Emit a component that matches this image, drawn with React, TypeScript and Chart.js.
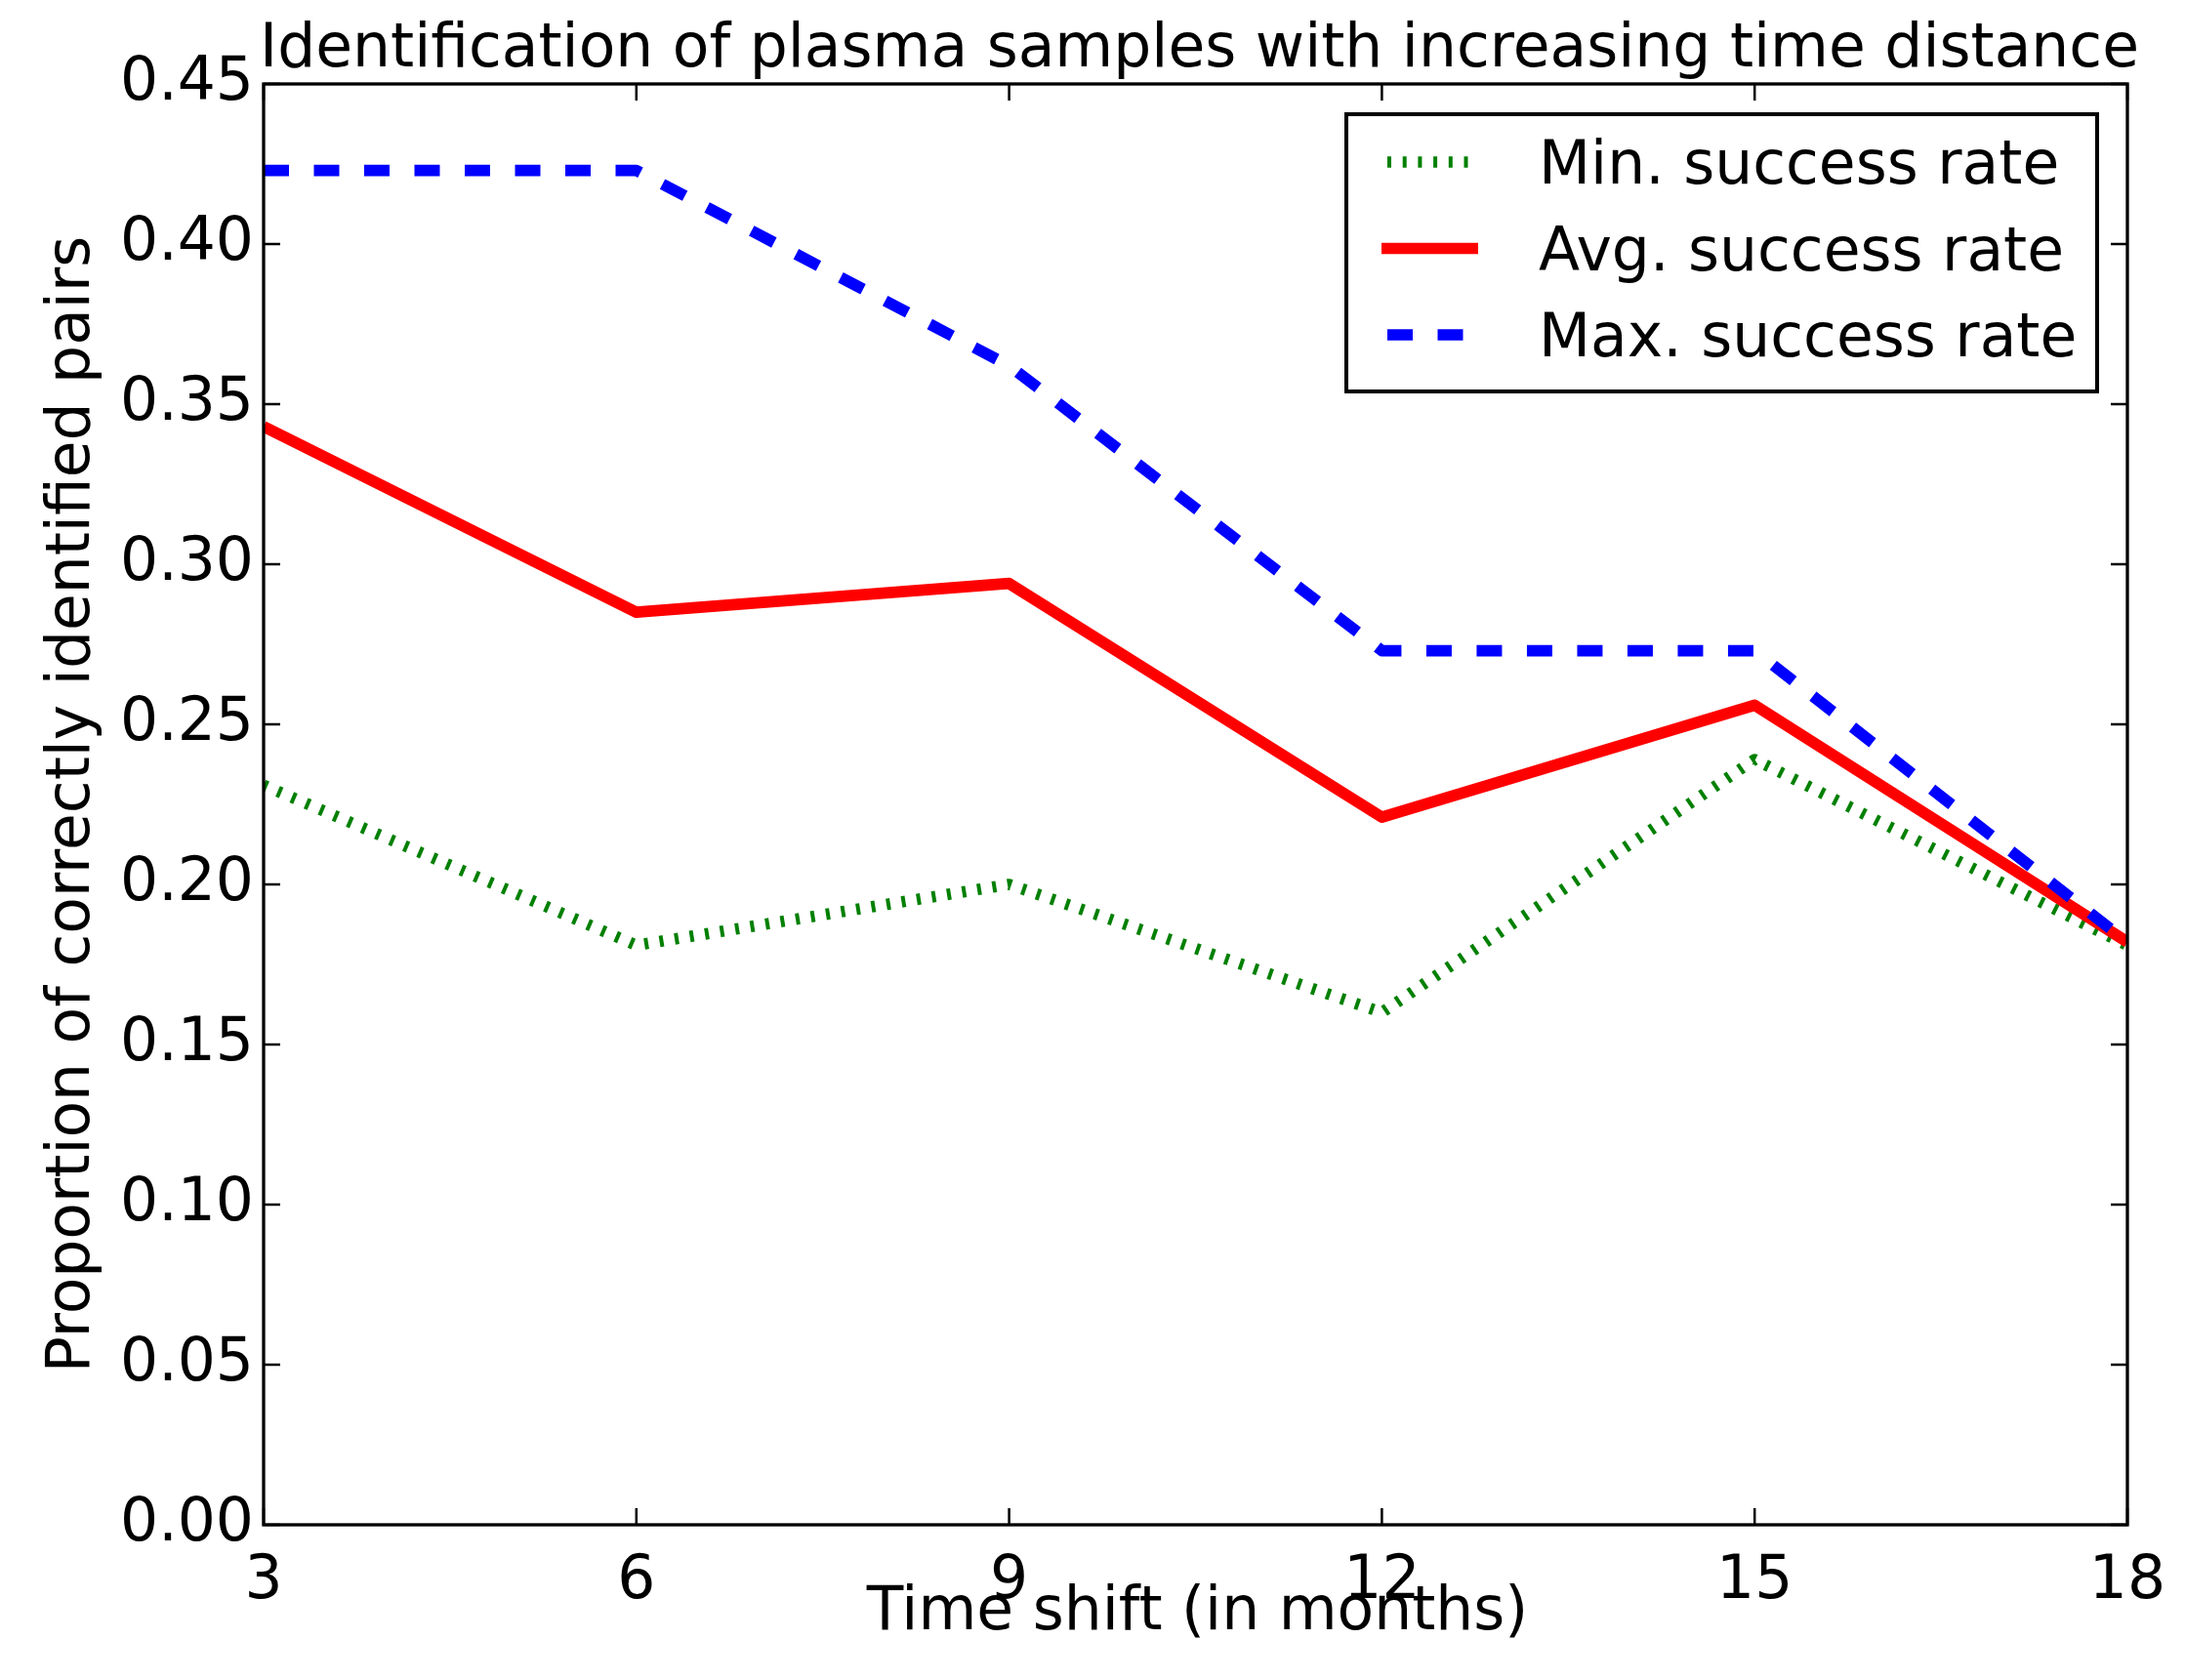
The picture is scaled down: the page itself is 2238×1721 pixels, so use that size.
import React, { useEffect, useRef } from "react";
import { Chart, registerables } from "chart.js";

Chart.register(...registerables);

const TITLE = "Identification of plasma samples with increasing time distance";
const X_TITLE = "Time shift (in months)";
const Y_TITLE = "Proportion of correctly identified pairs";

const months = [3, 6, 9, 12, 15, 18];
const minRate = [0.231, 0.181, 0.2, 0.16, 0.239, 0.181];
const avgRate = [0.343, 0.285, 0.294, 0.221, 0.256, 0.182];
const maxRate = [0.423, 0.423, 0.362, 0.273, 0.273, 0.182];
const seriesLabels = ["Min. success rate", "Avg. success rate", "Max. success rate"];

const xTicks = [3, 6, 9, 12, 15, 18];
const yTicks = [0, 0.05, 0.1, 0.15, 0.2, 0.25, 0.3, 0.35, 0.4, 0.45];

const FONT_FAMILY = "'DejaVu Sans', 'Liberation Sans', sans-serif";
const FONT_SIZE = 61.5;

const decorPlugin = {
  id: "decor",
  afterDatasetsDraw(chart: any) {
    const { ctx, chartArea: a, scales } = chart;
    ctx.save();
    // inward tick marks on all four sides
    ctx.strokeStyle = "#000";
    ctx.lineWidth = 2.5;
    ctx.setLineDash([]);
    const tl = 17;
    for (const v of xTicks) {
      const px = scales.x.getPixelForValue(v);
      ctx.beginPath();
      ctx.moveTo(px, a.bottom);
      ctx.lineTo(px, a.bottom - tl);
      ctx.moveTo(px, a.top);
      ctx.lineTo(px, a.top + tl);
      ctx.stroke();
    }
    for (const v of yTicks) {
      const py = scales.y.getPixelForValue(v);
      ctx.beginPath();
      ctx.moveTo(a.left, py);
      ctx.lineTo(a.left + tl, py);
      ctx.moveTo(a.right, py);
      ctx.lineTo(a.right - tl, py);
      ctx.stroke();
    }
    // frame
    ctx.lineWidth = 3.3;
    ctx.strokeRect(a.left, a.top, a.right - a.left, a.bottom - a.top);

    // titles
    ctx.fillStyle = "#000";
    ctx.font = `${FONT_SIZE}px ${FONT_FAMILY}`;
    ctx.textAlign = "center";
    ctx.textBaseline = "alphabetic";
    const cx = (a.left + a.right) / 2;
    ctx.fillText(TITLE, cx + 4, 68);
    ctx.fillText(X_TITLE, cx + 2, 1669);
    ctx.save();
    ctx.translate(91, (a.top + a.bottom) / 2);
    ctx.rotate(-Math.PI / 2);
    ctx.fillText(Y_TITLE, 0, 0);
    ctx.restore();

    // legend
    const lx0 = 1379, ly0 = 117, lx1 = 2148, ly1 = 401;
    ctx.fillStyle = "#fff";
    ctx.fillRect(lx0, ly0, lx1 - lx0, ly1 - ly0);
    ctx.strokeStyle = "#000";
    ctx.lineWidth = 4;
    ctx.strokeRect(lx0, ly0, lx1 - lx0, ly1 - ly0);
    chart.data.datasets.forEach((ds: any, i: number) => {
      const y = 166 + i * 88.5;
      ctx.save();
      ctx.beginPath();
      ctx.rect(1415, y - 20, 99, 40);
      ctx.clip();
      ctx.strokeStyle = ds.borderColor;
      ctx.lineWidth = ds.borderWidth;
      ctx.lineCap = "butt";
      ctx.setLineDash(ds.borderDash || []);
      ctx.beginPath();
      ctx.moveTo(i === 1 ? 1415 : 1421, y);
      ctx.lineTo(1514, y);
      ctx.stroke();
      ctx.restore();
      ctx.fillStyle = "#000";
      ctx.textAlign = "left";
      ctx.fillText(ds.label, 1576, y + 22);
    });
    ctx.restore();
  },
};

export default function App() {
  const canvasRef = useRef<HTMLCanvasElement | null>(null);

  useEffect(() => {
    document.body.style.margin = "0";
    const canvas = canvasRef.current;
    if (!canvas) return;
    const mk = (vals: number[]) => months.map((m, i) => ({ x: m, y: vals[i] }));
    const tickFont = { family: FONT_FAMILY, size: FONT_SIZE };
    const chart = new Chart(canvas, {
      type: "line",
      data: {
        datasets: [
          {
            label: seriesLabels[0],
            data: mk(minRate),
            borderColor: "#008000",
            borderWidth: 11.7,
            borderDash: [4, 11.7],
            borderCapStyle: "butt",
            borderJoinStyle: "round",
            pointRadius: 0,
            tension: 0,
            fill: false,
            clip: 0,
            order: 2,
          },
          {
            label: seriesLabels[1],
            data: mk(avgRate),
            borderColor: "#ff0000",
            borderWidth: 11.7,
            borderCapStyle: "butt",
            borderJoinStyle: "round",
            pointRadius: 0,
            tension: 0,
            fill: false,
            clip: 0,
            order: 1,
          },
          {
            label: seriesLabels[2],
            data: mk(maxRate),
            borderColor: "#0000ff",
            borderWidth: 11.7,
            borderDash: [26, 25.5],
            borderCapStyle: "butt",
            borderJoinStyle: "round",
            pointRadius: 0,
            tension: 0,
            fill: false,
            clip: 0,
            order: 0,
          },
        ],
      } as any,
      options: {
        responsive: false,
        devicePixelRatio: 1,
        animation: false,
        layout: { padding: { top: 86, right: 59, left: 0, bottom: 0 } },
        plugins: {
          legend: { display: false },
          title: { display: false },
          tooltip: { enabled: false },
        },
        scales: {
          x: {
            type: "linear",
            min: 3,
            max: 18,
            afterBuildTicks: (s: any) => {
              s.ticks = xTicks.map((v) => ({ value: v }));
            },
            afterFit: (s: any) => {
              s.height = 159;
            },
            grid: {
              display: true,
              drawOnChartArea: false,
              drawTicks: true,
              tickLength: 16,
              color: "rgba(0,0,0,0)",
            },
            border: { display: false },
            ticks: {
              font: tickFont,
              color: "#000",
              padding: 6,
              maxRotation: 0,
              autoSkip: false,
              callback: (v: any) => String(v),
            },
          },
          y: {
            type: "linear",
            min: 0,
            max: 0.45,
            afterBuildTicks: (s: any) => {
              s.ticks = yTicks.map((v) => ({ value: v }));
            },
            afterFit: (s: any) => {
              s.width = 270;
            },
            grid: { display: false, drawTicks: false },
            border: { display: false },
            ticks: {
              font: tickFont,
              color: "#000",
              padding: 10,
              autoSkip: false,
              callback: (v: any) => Number(v).toFixed(2),
            },
          },
        },
      } as any,
      plugins: [decorPlugin],
    });
    return () => chart.destroy();
  }, []);

  return (
    <div style={{ position: "absolute", left: 0, top: 0, width: 2238, height: 1721, background: "#fff" }}>
      <canvas ref={canvasRef} width={2238} height={1721} style={{ display: "block", width: 2238, height: 1721 }} />
    </div>
  );
}
